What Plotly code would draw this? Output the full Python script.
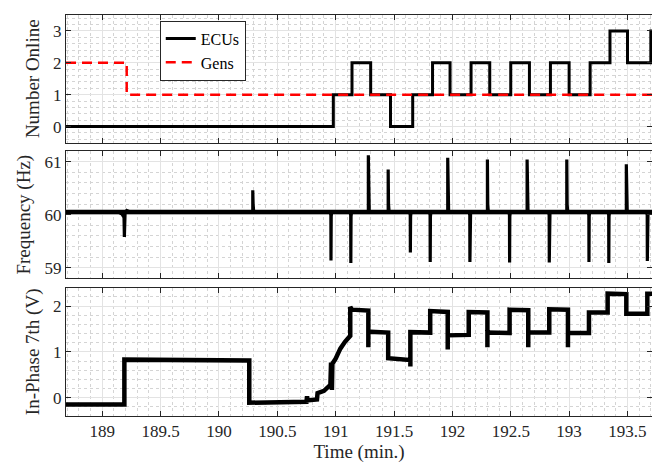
import plotly.graph_objects as go
from plotly.subplots import make_subplots

# ---------------- data ----------------
ecu_t = [188.69, 190.98, 191.14, 191.30, 191.47, 191.66, 191.83, 191.98, 192.16,
         192.32, 192.50, 192.66, 192.84, 193.00, 193.18, 193.35, 193.50, 193.70, 193.71]
ecu_n = [0, 1, 2, 1, 0, 1, 2, 1, 2, 1, 2, 1, 2, 1, 2, 3, 2, 3, 3]

gen_t = [188.69, 189.21, 193.71]
gen_n = [2, 1, 1]

freq_base = 60.05
# (time, extreme value) of each frequency transient
freq_evt_t = [189.19, 190.29, 190.96, 191.13, 191.28, 191.45, 191.64, 191.81, 191.96,
              192.15, 192.30, 192.49, 192.64, 192.83, 192.98, 193.17, 193.34, 193.49, 193.67]
freq_evt_v = [59.58, 60.46, 59.14, 59.09, 61.12, 60.85, 59.29, 59.11, 61.07,
              59.11, 61.04, 59.10, 61.04, 59.10, 61.04, 59.11, 59.09, 60.95, 59.13]

v7_t = [188.69, 189.19, 189.19, 189.60, 190.26, 190.26, 190.50, 190.75, 190.755, 190.76,
        190.84, 190.845, 190.90, 190.93, 190.955, 190.96, 190.968, 190.968, 190.972, 191.00,
        191.04, 191.08, 191.125, 191.125, 191.14, 191.28, 191.28, 191.28, 191.45, 191.45,
        191.64, 191.64, 191.64, 191.81, 191.81, 191.96, 191.96, 191.96, 192.14, 192.14,
        192.30, 192.30, 192.30, 192.49, 192.49, 192.65, 192.65, 192.65, 192.83, 192.83,
        192.99, 192.99, 192.99, 193.17, 193.17, 193.33, 193.33, 193.49, 193.49, 193.67,
        193.67, 193.71]
v7_v = [-0.15, -0.15, 0.83, 0.82, 0.81, -0.11, -0.10, -0.09, 0.03, -0.06,
        -0.04, 0.10, 0.15, 0.22, 0.28, 0.72, 0.72, 0.17, 0.74, 0.85,
        1.07, 1.22, 1.35, 1.98, 1.92, 1.90, 1.10, 1.44, 1.42, 0.86,
        0.82, 0.68, 1.43, 1.42, 1.89, 1.87, 1.05, 1.36, 1.37, 1.87,
        1.86, 1.10, 1.42, 1.41, 1.92, 1.91, 1.10, 1.42, 1.42, 1.93,
        1.92, 1.10, 1.41, 1.41, 1.86, 1.86, 2.27, 2.26, 1.83, 1.83,
        2.27, 2.27]

# build the frequency trace from baseline + transients
freq_t = [188.69]
freq_v = [freq_base]
for i, (t, v) in enumerate(zip(freq_evt_t, freq_evt_v)):
    if i == 0:
        # first, gentler sag before the dip
        freq_t += [t - 0.05, t - 0.02, t - 0.003, t, t + 0.006, t + 0.02, t + 0.05]
        freq_v += [freq_base, freq_base - 0.04, freq_base - 0.1, v, freq_base - 0.02, freq_base + 0.03, freq_base]
    elif v < freq_base:
        freq_t += [t - 0.006, t - 0.001, t, t + 0.002, t + 0.006]
        freq_v += [freq_base, freq_base - 0.06, v, freq_base - 0.08, freq_base]
    else:
        freq_t += [t, t, t + 0.003, t + 0.008]
        freq_v += [freq_base, v, freq_base + 0.15, freq_base]
freq_t.append(193.71)
freq_v.append(freq_base)

x_ticks = [189, 189.5, 190, 190.5, 191, 191.5, 192, 192.5, 193, 193.5]
x_tick_text = ["189", "189.5", "190", "190.5", "191", "191.5", "192", "192.5", "193", "193.5"]

# ---------------- figure ----------------
fig = make_subplots(rows=3, cols=1, shared_xaxes=True)

fig.add_trace(go.Scatter(x=ecu_t, y=ecu_n, mode="lines", line=dict(color="black", width=3, shape="hv"),
                         name="ECUs"), row=1, col=1)
fig.add_trace(go.Scatter(x=gen_t, y=gen_n, mode="lines",
                         line=dict(color="#ff0000", width=2.5, shape="hv", dash="10px,6px"),
                         name="Gens"), row=1, col=1)
# thick (noisy-looking) baseline band of the frequency record
fig.add_trace(go.Scatter(x=[freq_t[0], freq_t[-1]], y=[freq_base, freq_base], mode="lines",
                         line=dict(color="black", width=4.5), showlegend=False, hoverinfo="skip"),
              row=2, col=1)
fig.add_trace(go.Scatter(x=freq_t, y=freq_v, mode="lines", line=dict(color="black", width=3.2),
                         showlegend=False), row=2, col=1)
fig.add_trace(go.Scatter(x=v7_t, y=v7_v, mode="lines", line=dict(color="black", width=4.5),
                         showlegend=False), row=3, col=1)

axis_col = "#262626"
font_fam = "Liberation Serif"
common = dict(showline=True, mirror="allticks", linecolor=axis_col, linewidth=1,
              ticks="inside", ticklen=5, tickcolor=axis_col, tickwidth=1,
              showgrid=True, gridcolor="#e3e3e3", gridwidth=1, zeroline=False,
              tickfont=dict(family=font_fam, size=17, color=axis_col),
              minor=dict(showgrid=True, gridcolor="#d4d4d4", griddash="dot", gridwidth=1, ticks=""))

for r in (1, 2, 3):
    fig.update_xaxes(range=[188.69, 193.71], tickvals=x_ticks, ticktext=x_tick_text,
                     showticklabels=(r == 3), row=r, col=1, **common)
    fig.update_xaxes(minor_dtick=0.1, minor_tick0=189, row=r, col=1)

fig.update_yaxes(range=[-0.5, 3.5], tickvals=[0, 1, 2, 3], minor_dtick=0.2, minor_tick0=0,
                 title=dict(text="Number Online", font=dict(family=font_fam, size=19, color=axis_col), standoff=8),
                 row=1, col=1, **common)
fig.update_yaxes(range=[58.8, 61.2], tickvals=[59, 60, 61], minor_dtick=0.2, minor_tick0=59,
                 title=dict(text="Frequency (Hz)", font=dict(family=font_fam, size=19, color=axis_col), standoff=8),
                 row=2, col=1, **common)
fig.update_yaxes(range=[-0.4, 2.4], tickvals=[0, 1, 2], minor_dtick=0.2, minor_tick0=0,
                 title=dict(text="In-Phase 7th (V)", font=dict(family=font_fam, size=19, color=axis_col), standoff=8),
                 row=3, col=1, **common)
fig.update_xaxes(title=dict(text="Time (min.)", font=dict(family=font_fam, size=19, color=axis_col), standoff=4),
                 row=3, col=1)

fig.update_layout(
    width=660, height=465,
    margin=dict(l=58, r=16, t=7, b=57),
    paper_bgcolor="white", plot_bgcolor="white",
    yaxis=dict(domain=[0.682, 1.0]),
    yaxis2=dict(domain=[0.343, 0.661]),
    yaxis3=dict(domain=[0.0, 0.320]),
    legend=dict(x=0.16, y=0.986, xanchor="left", yanchor="top",
                bordercolor=axis_col, borderwidth=1, bgcolor="white",
                font=dict(family=font_fam, size=16, color="black"),
                tracegroupgap=0, itemwidth=30),
    font=dict(family=font_fam),
)

fig.write_html("out.html")
